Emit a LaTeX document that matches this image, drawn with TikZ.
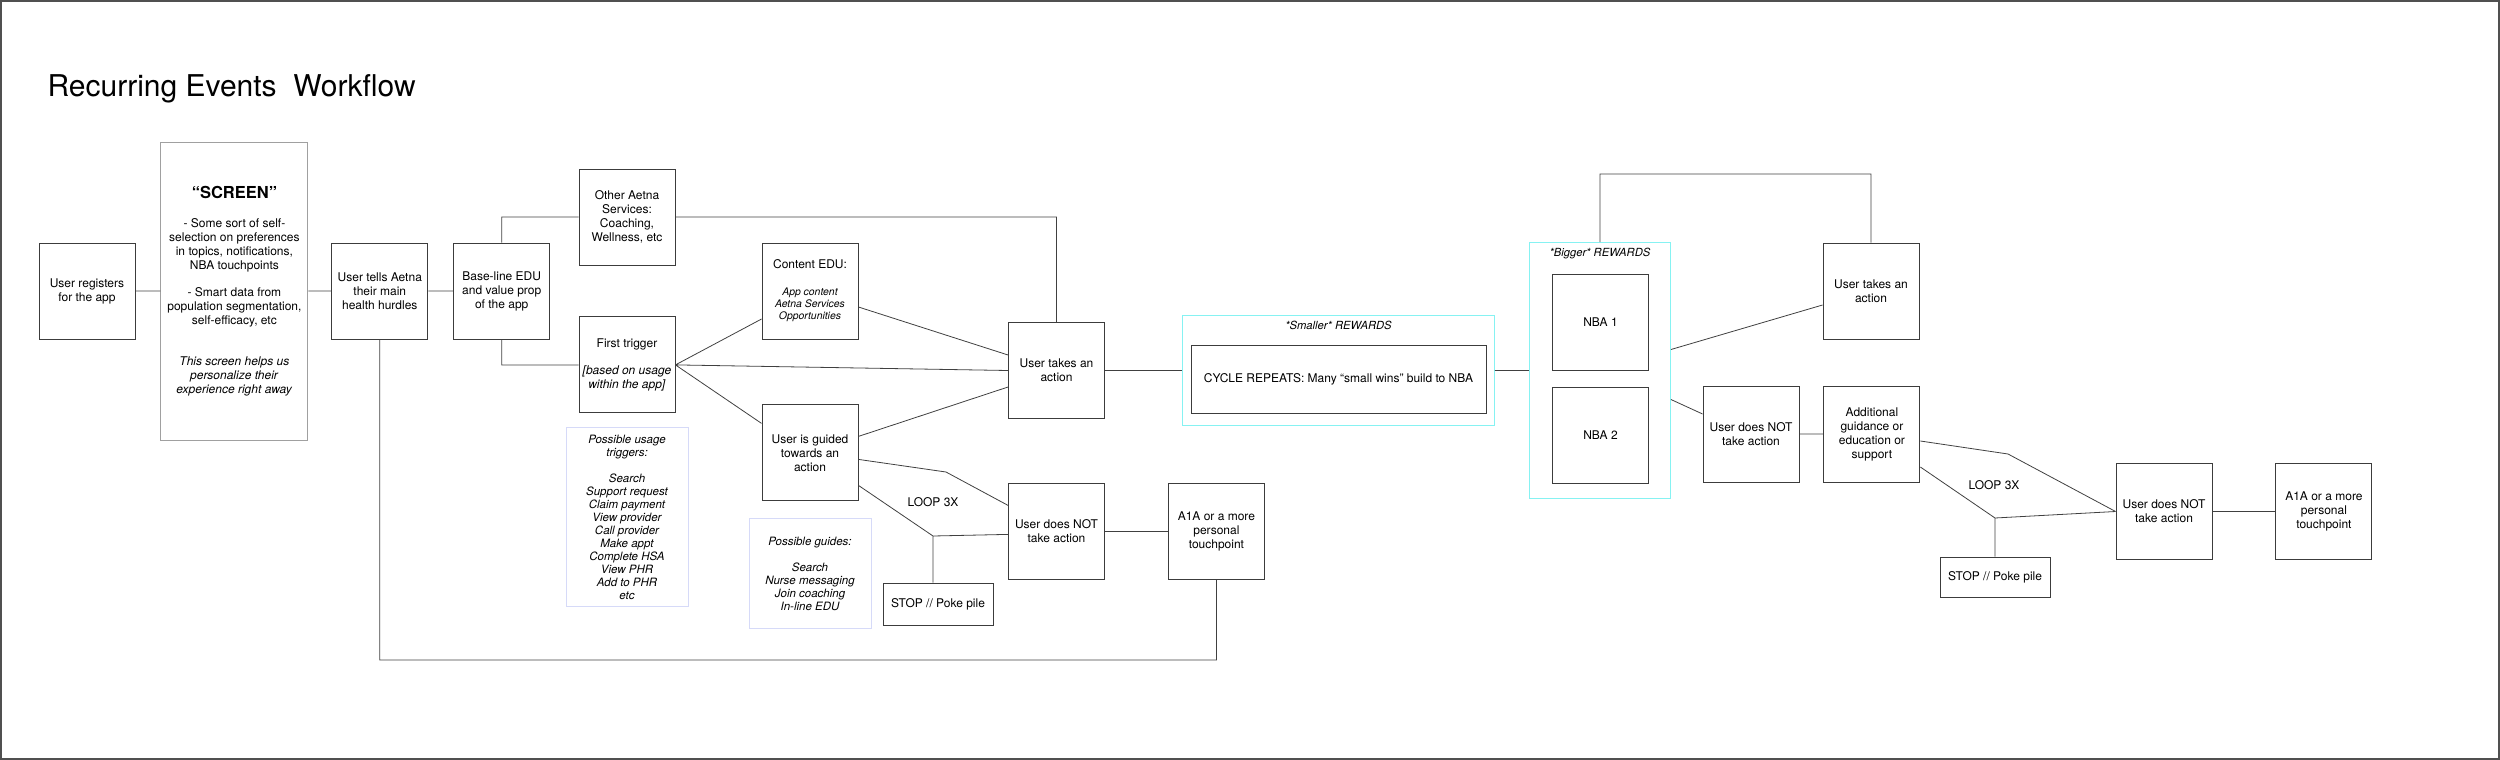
\documentclass[tikz,border=0pt]{standalone}
\usepackage{fontspec}
\setmainfont{TeX Gyre Heros}
\usetikzlibrary{positioning}

\definecolor{boxgray}{HTML}{3C3C3C}
\definecolor{linegray}{HTML}{404040}
\definecolor{screengray}{HTML}{A0A0A0}
\definecolor{notelav}{HTML}{D6DAF8}
\definecolor{rewardcyan}{HTML}{86F2F2}
\definecolor{framegray}{HTML}{505050}

\begin{document}
\begin{tikzpicture}[x=1pt, y=-1pt,
    every node/.style={font=\fontsize{12}{14}\selectfont},
    box/.style={draw=boxgray, line width=0.9pt, minimum width=96pt,
        minimum height=96pt, align=center, inner sep=2pt},
    stopbox/.style={box, minimum width=110pt, minimum height=42pt},
    note/.style={draw=notelav, line width=1pt, align=center,
        minimum width=122pt, font=\fontsize{11.5}{13}\selectfont\itshape},
    reward/.style={draw=rewardcyan, line width=1pt},
    heading/.style={font=\fontsize{11.2}{13}\selectfont\itshape, inner sep=1pt},
    link/.style={draw=linegray, line width=0.8pt}]
    % Page size and outer frame
    \useasboundingbox (0,0) rectangle (2500,760);
    \draw[framegray, line width=2pt] (1,1) rectangle (2499,759);
    \node[anchor=base west,
          font=\fontsize{30}{36}\selectfont] (title) at (44,96) {Recurring Events~~Workflow};
    % Add the boxes
    \node[box] (reg) at (87,291) {User registers\\for the app};
    \node[box,
          draw=screengray,
          minimum width=147pt,
          minimum height=298pt,
          right=25pt of reg] (screen) {{\fontsize{16.5}{20}\selectfont\bfseries “SCREEN”}\\[15pt]
          - Some sort of self-\\
          selection on preferences\\
          in topics, notifications,\\
          NBA touchpoints\\[13pt]
          - Smart data from\\
          population segmentation,\\
          self-efficacy, etc\\[27pt]
          \textit{This screen helps us}\\
          \textit{personalize their}\\
          \textit{experience right away}};
    \node[box, right=23pt of screen] (tells) {User tells Aetna\\their main\\health hurdles};
    \node[box, right=25pt of tells] (base) {Base-line EDU\\and value prop\\of the app};
    \node[box] (other) at (627,217) {Other Aetna\\Services:\\Coaching,\\Wellness, etc};
    \node[box, below=51pt of other] (first) {First trigger\\[13pt]\textit{[based on usage}\\\textit{within the app]}};
    \node[note,
          minimum height=179pt,
          below=14pt of first] (trignote) {Possible usage\\triggers:\\[13pt]
          Search\\Support request\\Claim payment\\View provider\\Call provider\\
          Make appt\\Complete HSA\\View PHR\\Add to PHR\\etc};
    \node[box,
          font=\fontsize{10.4}{12}\selectfont\itshape] (content) at (810,291) {\upshape\fontsize{12}{14}\selectfont Content EDU:\\[15pt]
          App content\\Aetna Services\\Opportunities};
    \node[box, below=65pt of content] (guided) {User is guided\\towards an\\action};
    \node[note,
          minimum height=110pt,
          below=17pt of guided] (guidenote) {Possible guides:\\[13pt]
          Search\\Nurse messaging\\Join coaching\\In-line EDU};
    \node[box] (act1) at (1056.5,370.5) {User takes an\\action};
    \node[box, below=64pt of act1] (not1) {User does NOT\\take action};
    \node[box, right=63pt of not1] (a1a1) {A1A or a more\\personal\\touchpoint};
    \node[stopbox] (stop1) at (938,604) {STOP // Poke pile};
    \node (loop1) at (933,502) {LOOP 3X};
    % Rewards
    \node[reward,
          minimum width=312pt,
          minimum height=110pt,
          right=77pt of act1] (smallrw) {};
    \node[heading, below=5pt of smallrw.north] (smalltitle) {*Smaller* REWARDS};
    \node[box,
          minimum width=295pt,
          minimum height=68pt] (cycle) at (1338.5,379) {CYCLE REPEATS: Many “small wins” build to NBA};
    \node[reward,
          minimum width=141pt,
          minimum height=256pt,
          right=34pt of smallrw] (bigrw) {};
    \node[heading, below=5pt of bigrw.north] (bigtitle) {*Bigger* REWARDS};
    \node[box] (nba1) at (1600.5,322.5) {NBA 1};
    \node[box, below=16pt of nba1] (nba2) {NBA 2};
    \node[box] (act2) at (1871,291) {User takes an\\action};
    \node[box] (not2) at (1751,434) {User does NOT\\take action};
    \node[box, right=24pt of not2] (addl) {Additional\\guidance or\\education or\\support};
    \node[box] (not3) at (2164,511.5) {User does NOT\\take action};
    \node[box, right=63pt of not3] (a1a2) {A1A or a more\\personal\\touchpoint};
    \node[stopbox, minimum height=40pt] (stop2) at (1995,577) {STOP // Poke pile};
    \node (loop2) at (1994,485) {LOOP 3X};
    % Bend points
    \coordinate (bend1) at (946,472);
    \coordinate (junc1) at (933,536);
    \coordinate (bend2) at (2008,454);
    \coordinate (junc2) at (1995,518);
    \coordinate (floor) at (0,660);
    \coordinate (top) at (0,174);
    % Connect the boxes
    \draw[link]
        (reg) -- (screen)
        (screen) -- (tells)
        (tells) -- (base)
        (base.north) |- (other.west)
        (base.south) |- (first.west)
        (first.east) -- ([yshift=-28pt]content.west)
        (first.east) -- (act1.west)
        (first.east) -- ([yshift=29.5pt]guided.west)
        ([yshift=-16pt]content.east) -- ([yshift=15.5pt]act1.west)
        ([yshift=16.5pt]guided.east) -- ([yshift=-16.5pt]act1.west)
        ([yshift=-6.5pt]guided.east) -- (bend1) -- ([yshift=26pt]not1.west)
        ([yshift=-32.5pt]guided.east) -- (junc1) -- ([yshift=-3pt]not1.west)
        (junc1) -- (junc1 |- stop1.north)
        (other.east) -| (act1.north)
        (act1) -- (smallrw)
        (not1) -- (a1a1)
        (a1a1.south) |- (tells.south |- floor) -- (tells.south)
        (smallrw) -- (bigrw)
        (bigrw.north) -- (bigrw.north |- top) -| (act2.north)
        ([yshift=21pt]bigrw.east) -- ([yshift=-14pt]act2.west)
        ([yshift=-29pt]bigrw.east) -- ([yshift=20pt]not2.west)
        (not2) -- (addl)
        ([yshift=-7pt]addl.east) -- (bend2) -- (not3.west)
        ([yshift=-33pt]addl.east) -- (junc2) -- (not3.west)
        (junc2) -- (junc2 |- stop2.north)
        (not3) -- (a1a2);
\end{tikzpicture}
\end{document}
